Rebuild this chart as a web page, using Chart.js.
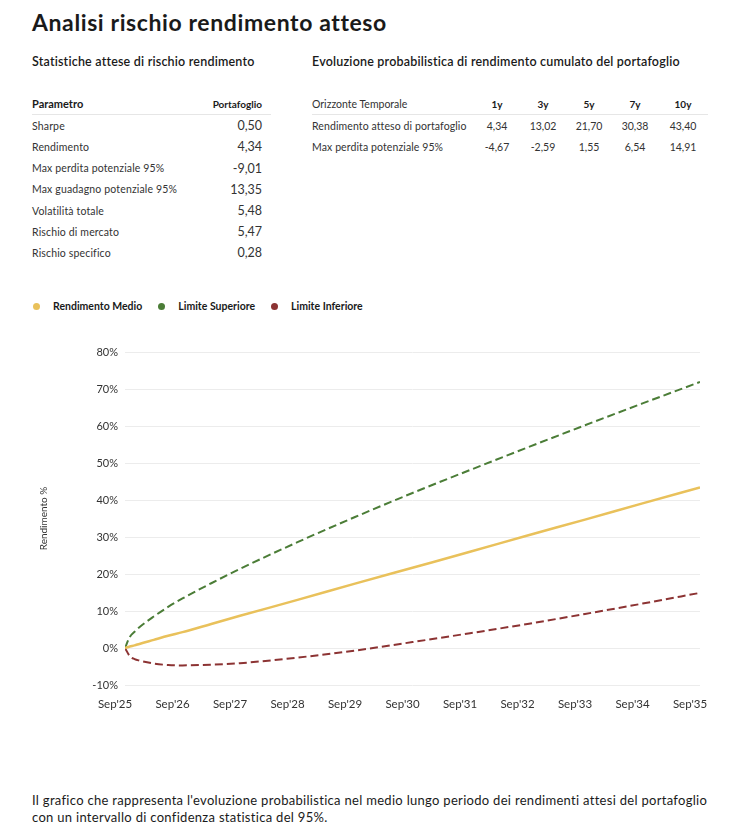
<!DOCTYPE html>
<html lang="it">
<head>
<meta charset="utf-8">
<script src="https://cdn.jsdelivr.net/npm/chart.js@4.4.1/dist/chart.umd.min.js"></script>
<style>
  body { margin: 0; background: #fff; font-family: Lato, "Open Sans", sans-serif; color: #1a1a1a; }
  .page { position: relative; width: 743px; height: 825px; }
  h1 { position: absolute; left: 32px; top: 8px; margin: 0; font-size: 23px; font-weight: 700; letter-spacing: 0.6px; }
  .sub { position: absolute; top: 54px; margin: 0; font-size: 12.5px; font-weight: 600; letter-spacing: 0.2px; }
  table { position: absolute; border-collapse: collapse; }
  td, th { padding: 0; height: 21.2px; }
  #stats { left: 32px; top: 93px; width: 239px; }
  #stats th { font-size: 11px; font-weight: 700; text-align: left; border-bottom: 1px solid #e6e6e6; }
  #stats th.v { font-size: 10px; text-align: right; padding-right: 9px; }
  #stats td { font-size: 10.5px; letter-spacing: 0.15px; color: #333; }
  #stats td.v { font-size: 12.5px; letter-spacing: 0; text-align: right; padding-right: 9px; }
  #horizon { left: 312px; top: 93px; width: 396px; }
  #horizon th { font-size: 10px; font-weight: 700; text-align: center; border-bottom: 1px solid #e6e6e6; }
  #horizon th.l { font-weight: 400; font-size: 10.5px; text-align: left; color: #333; }
  #horizon td { font-size: 10.5px; text-align: center; color: #333; }
  #horizon td.l { text-align: left; letter-spacing: 0.1px; }
  .legend { position: absolute; left: 33px; top: 300px; font-size: 10.5px; font-weight: 700; display: flex; }
  .legend span { display: inline-flex; align-items: center; margin-right: 16px; }
  .legend i { width: 7px; height: 7px; border-radius: 50%; display: inline-block; margin-right: 13px; }
  #chart { position: absolute; left: 0; top: 330px; }
  .caption { position: absolute; left: 32px; top: 792px; margin: 0; font-size: 13px; letter-spacing: 0.3px; line-height: 17px; color: #1a1a1a; }
</style>
</head>
<body>
<div class="page">
  <h1>Analisi rischio rendimento atteso</h1>
  <p class="sub" style="left:32px">Statistiche attese di rischio rendimento</p>
  <p class="sub" style="left:312px">Evoluzione probabilistica di rendimento cumulato del portafoglio</p>

  <table id="stats"></table>
  <table id="horizon"></table>

  <div class="legend" id="legend"></div>
  <canvas id="chart" width="743" height="385"></canvas>

  <p class="caption">Il grafico che rappresenta l'evoluzione probabilistica nel medio lungo periodo dei rendimenti attesi del portafoglio<br>con un intervallo di confidenza statistica del 95%.</p>
</div>

<script>
// tabella statistiche
const statLabels = ["Sharpe", "Rendimento", "Max perdita potenziale 95%", "Max guadagno potenziale 95%", "Volatilità totale", "Rischio di mercato", "Rischio specifico"];
const statValues = ["0,50", "4,34", "-9,01", "13,35", "5,48", "5,47", "0,28"];

// orizzonte temporale
const horizons = ["1y", "3y", "5y", "7y", "10y"];
const horizonReturn = ["4,34", "13,02", "21,70", "30,38", "43,40"];
const horizonLoss = ["-4,67", "-2,59", "1,55", "6,54", "14,91"];

// serie del grafico (mesi da Sep'25)
const months = [0, 1, 2, 3, 6, 9, 12, 18, 24, 36, 48, 60, 72, 84, 96, 108, 120];
const meanReturn = [0, 0.4, 0.7, 1.1, 2.2, 3.3, 4.3, 6.5, 8.7, 13.0, 17.4, 21.7, 26.0, 30.4, 34.7, 39.1, 43.4];
const upperBound = [0, 3.0, 4.4, 5.6, 8.5, 11.1, 13.4, 17.5, 21.4, 28.6, 35.4, 41.9, 48.1, 54.2, 60.2, 66.1, 71.9];
const lowerBound = [0, -2.2, -3.0, -3.4, -4.2, -4.6, -4.7, -4.5, -4.1, -2.6, -0.7, 1.6, 4.0, 6.5, 9.2, 12.0, 14.9];
const xLabels = ["Sep'25", "Sep'26", "Sep'27", "Sep'28", "Sep'29", "Sep'30", "Sep'31", "Sep'32", "Sep'33", "Sep'34", "Sep'35"];

const seriesNames = ["Rendimento Medio", "Limite Superiore", "Limite Inferiore"];
const seriesColors = ["#e9c15b", "#4b7d37", "#8c3333"];

let html = '<tr><th>Parametro</th><th class="v">Portafoglio</th></tr>';
statLabels.forEach((l, i) => {
  html += `<tr><td>${l}</td><td class="v">${statValues[i]}</td></tr>`;
});
document.getElementById("stats").innerHTML = html;

html = '<colgroup><col style="width:162px"><col style="width:46px"><col style="width:46px"><col style="width:46px"><col style="width:46px"><col style="width:50px"></colgroup>';
html += '<tr><th class="l">Orizzonte Temporale</th>' + horizons.map(h => `<th>${h}</th>`).join("") + "</tr>";
html += '<tr><td class="l">Rendimento atteso di portafoglio</td>' + horizonReturn.map(v => `<td>${v}</td>`).join("") + "</tr>";
html += '<tr><td class="l">Max perdita potenziale 95%</td>' + horizonLoss.map(v => `<td>${v}</td>`).join("") + "</tr>";
document.getElementById("horizon").innerHTML = html;

document.getElementById("legend").innerHTML = seriesNames
  .map((n, i) => `<span><i style="background:${seriesColors[i]}"></i>${n}</span>`)
  .join("");

const toPoints = (vals) => vals.map((v, i) => ({ x: months[i], y: v }));

const ctx = document.getElementById("chart").getContext("2d");
new Chart(ctx, {
  type: "line",
  data: {
    datasets: [
      {
        label: seriesNames[0],
        data: toPoints(meanReturn),
        borderColor: seriesColors[0],
        borderWidth: 2.5,
        pointRadius: 0,
        cubicInterpolationMode: "monotone",
      },
      {
        label: seriesNames[1],
        data: toPoints(upperBound),
        borderColor: seriesColors[1],
        borderWidth: 2,
        borderDash: [8, 4],
        pointRadius: 0,
        cubicInterpolationMode: "monotone",
      },
      {
        label: seriesNames[2],
        data: toPoints(lowerBound),
        borderColor: seriesColors[2],
        borderWidth: 2,
        borderDash: [8, 4],
        pointRadius: 0,
        cubicInterpolationMode: "monotone",
      },
    ],
  },
  options: {
    responsive: false,
    animation: false,
    layout: { padding: { top: 22, right: 43, left: 34, bottom: 0 } },
    plugins: {
      legend: { display: false },
      tooltip: { enabled: false },
    },
    scales: {
      x: {
        type: "linear",
        min: 0,
        max: 120,
        afterFit: (scale) => { scale.height = 30; },
        afterBuildTicks: (scale) => {
          scale.ticks = xLabels.map((_, i) => ({ value: i * 12 }));
        },
        grid: { display: false, drawTicks: false },
        border: { display: false },
        ticks: {
          padding: 12,
          labelOffset: -10,
          maxRotation: 0,
          autoSkip: false,
          color: "#333",
          font: { family: "Lato", size: 11.5 },
          callback: (v) => xLabels[v / 12],
        },
      },
      y: {
        min: -10,
        max: 80,
        afterFit: (scale) => { scale.width = 91; },
        grid: { color: "#ececec", drawTicks: false },
        border: { display: false },
        title: {
          display: true,
          text: "Rendimento %",
          color: "#333",
          font: { family: "Lato", size: 10 },
        },
        ticks: {
          stepSize: 10,
          padding: 7,
          color: "#333",
          font: { family: "Lato", size: 11 },
          callback: (v) => v + "%",
        },
      },
    },
  },
});
</script>
</body>
</html>
